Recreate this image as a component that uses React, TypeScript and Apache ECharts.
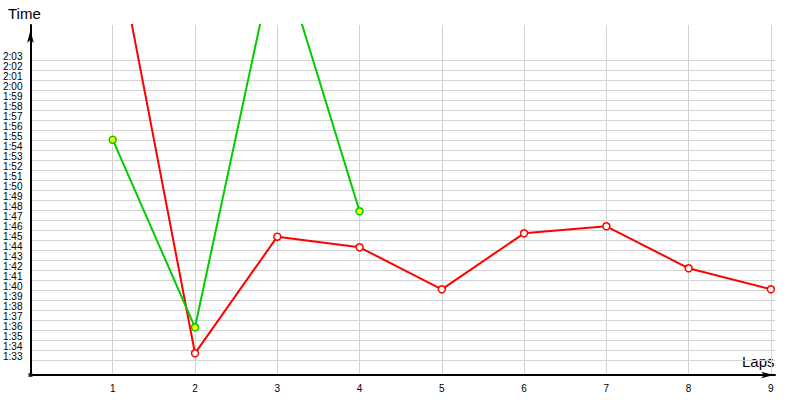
import React, { useEffect, useRef } from "react";
import * as echarts from "echarts";

// Lap numbers
const laps = [1, 2, 3, 4, 5, 6, 7, 8, 9];
// Lap times in seconds
const redTimes = [136.5, 93.67, 105.33, 104.27, 100.07, 105.67, 106.37, 102.17, 100.07];
const greenTimes = [115.03, 96.27, 134.6, 107.87];
// Y tick values (seconds) 1:33 .. 2:03
const yTicks = [
  93, 94, 95, 96, 97, 98, 99, 100, 101, 102, 103, 104, 105, 106, 107, 108,
  109, 110, 111, 112, 113, 114, 115, 116, 117, 118, 119, 120, 121, 122, 123,
];
const xTicks = [1, 2, 3, 4, 5, 6, 7, 8, 9];

const fmt = (v: number) => {
  const m = Math.floor(v / 60);
  const s = Math.round(v - m * 60);
  return `${m}:${s < 10 ? "0" + s : s}`;
};

export default function App() {
  const ref = useRef<HTMLDivElement>(null);
  useEffect(() => {
    if (!ref.current) return;
    const chart = echarts.init(ref.current, null, { renderer: "svg" });
    const font = "Liberation Sans";
    chart.setOption({
      animation: false,
      grid: { left: 30, right: 25, top: 25, bottom: 25, containLabel: false },
      xAxis: {
        type: "value",
        min: 0,
        max: 9.05,
        interval: 1,
        axisLine: {
          show: true,
          lineStyle: { color: "#000", width: 2 },
          symbol: ["none", "arrow"],
          symbolSize: [5, 13],
          symbolOffset: [0, -1],
        },
        axisTick: { show: false, customValues: xTicks },
        axisLabel: {
          customValues: xTicks,
          color: "#000",
          fontFamily: font,
          fontSize: 10,
          margin: 8,
        },
        splitLine: { show: true, lineStyle: { color: "#d3d3d3", width: 1 } },
      },
      yAxis: {
        type: "value",
        min: 91.5,
        max: 126.5,
        axisLine: {
          show: true,
          lineStyle: { color: "#000", width: 2 },
          symbol: ["none", "arrow"],
          symbolSize: [5, 13],
          symbolOffset: [0, -5],
        },
        axisTick: { show: false, customValues: yTicks },
        axisLabel: {
          customValues: yTicks,
          showMinLabel: true,
          showMaxLabel: true,
          hideOverlap: false,
          color: "#000",
          fontFamily: font,
          fontSize: 10,
          margin: 8,
          verticalAlign: "bottom",
          lineHeight: 10,
          padding: [0, 0, -1, 0],
          formatter: (v: number) => fmt(v),
        },
        splitLine: { show: true, lineStyle: { color: "#d3d3d3", width: 1 } },
      },
      graphic: [
        {
          type: "text",
          left: 8,
          top: 6,
          style: { text: "Time", font: `15px "${font}"`, fill: "#000" },
        },
        {
          type: "text",
          left: 742,
          top: 354,
          style: { text: "Laps", font: `15px "${font}"`, fill: "#000" },
        },
      ],
      series: [
        {
          type: "line",
          data: laps.map((l, i) => [l, redTimes[i]]),
          symbol: "circle",
          symbolSize: 7,
          showAllSymbol: true,
          lineStyle: { color: "#ff0000", width: 2 },
          itemStyle: { color: "#ffffff", borderColor: "#ff0000", borderWidth: 1.5 },
          z: 3,
        },
        {
          type: "line",
          data: laps.slice(0, greenTimes.length).map((l, i) => [l, greenTimes[i]]),
          symbol: "circle",
          symbolSize: 7,
          showAllSymbol: true,
          lineStyle: { color: "#00cc00", width: 2 },
          itemStyle: { color: "#ffff00", borderColor: "#00cc00", borderWidth: 1.5 },
          z: 4,
        },
        {
          type: "scatter",
          data: [[0, 91.5]],
          symbol: "rect",
          symbolSize: 4,
          clip: false,
          itemStyle: { color: "#111" },
          z: 5,
        },
      ],
    });
    return () => chart.dispose();
  }, []);
  return (
    <div
      ref={ref}
      style={{ position: "absolute", left: 0, top: 0, width: 800, height: 400 }}
    />
  );
}
